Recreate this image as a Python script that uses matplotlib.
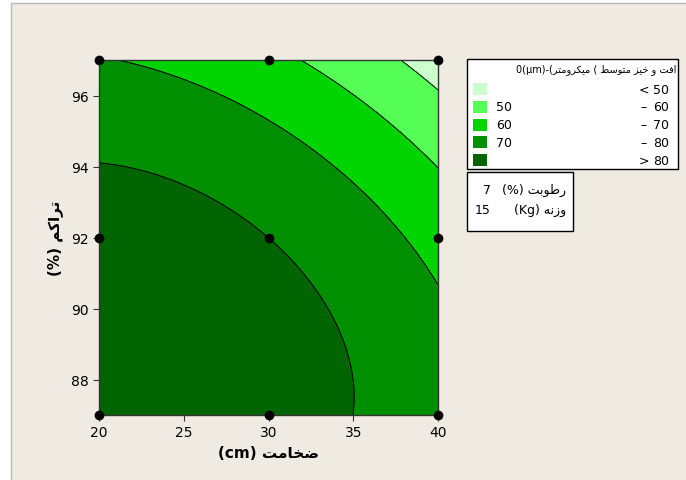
import numpy as np
import matplotlib.pyplot as plt
from matplotlib.patches import Rectangle
from matplotlib import font_manager, ft2font

# design points (thickness cm, compaction %) and response
thick = [20, 30, 40]
comp = [87, 92, 97]
resp = np.array([[83.8, 83.5, 74.2],    # comp 87
                 [84.2, 80.0, 66.5],    # comp 92
                 [70.3, 62.6, 45.5]])   # comp 97

levels = [0, 50, 60, 70, 80, 100]
colors = ['#ccffcc', '#55ff55', '#00d400', '#008f00', '#006400']
leg_left = ['', '50', '60', '70', '']
leg_sym = ['<', '–', '–', '–', '>']
leg_right = ['50', '60', '70', '80', '80']
hold_names = ['رطوبت', 'وزنه']
hold_units = ['(%)', '(Kg)']
hold_vals = ['7', '15']

# --- tiny arabic shaper (matplotlib has no bidi / joining) ---
dj = {'ب': 0xFE8F, 'ت': 0xFE95, 'خ': 0xFEA5, 'س': 0xFEB1, 'ض': 0xFEBD, 'ط': 0xFEC1,
      'ف': 0xFED1, 'ك': 0xFED9, 'م': 0xFEE1, 'ن': 0xFEE5, 'ه': 0xFEE9, 'ي': 0xFEF1}
rj = {'ا': 0xFE8D, 'ر': 0xFEAD, 'ز': 0xFEAF, 'و': 0xFEED}
fa_forms = {'ک': 0xFB8E, 'ی': 0xFBFC}

_f = ft2font.FT2Font(font_manager.findfont('DejaVu Sans'))
have_fa = all(_f.get_char_index(c + i) for c in fa_forms.values() for i in range(4))


def forms(ch):
    if ch in fa_forms and have_fa:
        b = fa_forms[ch]
        return [b, b + 1, b + 2, b + 3]
    if ch == 'ک':
        ch = 'ك'
    if ch == 'ی':
        return [0xFEEF, 0xFEF0, 0xFEF3, 0xFEF4]
    if ch in dj:
        b = dj[ch]
        return [b, b + 1, b + 2, b + 3]
    if ch in rj:
        b = rj[ch]
        return [b, b + 1]
    return None


def ar(s):
    out = []
    for i, ch in enumerate(s):
        f = forms(ch)
        if f is None:
            out.append(ch)
            continue
        prev = forms(s[i - 1]) if i > 0 else None
        nxt = forms(s[i + 1]) if i + 1 < len(s) else None
        jp = prev is not None and len(prev) == 4
        jn = len(f) == 4 and nxt is not None
        if jp and jn:
            out.append(chr(f[3]))
        elif jn:
            out.append(chr(f[2]))
        elif jp:
            out.append(chr(f[1]))
        else:
            out.append(chr(f[0]))
    return ''.join(out[::-1])


# quadratic response surface fitted to the design points
X, Y = np.meshgrid(thick, comp)
u = (X.ravel() - 30) / 10
v = (Y.ravel() - 92) / 5
A = np.column_stack([np.ones_like(u), u, v, u * u, v * v, u * v])
coef, *_ = np.linalg.lstsq(A, resp.ravel(), rcond=None)

gx, gy = np.meshgrid(np.linspace(20, 40, 200), np.linspace(87, 97, 200))
gu = (gx - 30) / 10
gv = (gy - 92) / 5
Z = (coef[0] + coef[1] * gu + coef[2] * gv + coef[3] * gu ** 2
     + coef[4] * gv ** 2 + coef[5] * gu * gv)

bg = '#efebe2'
fig = plt.figure(figsize=(6.86, 4.81), dpi=100, facecolor='white')
fig.patches.append(Rectangle((11 / 686, -0.01), 1, 1 - 4 / 481 + 0.01, transform=fig.transFigure,
                             facecolor=bg, edgecolor='#b8b8b8', lw=1, zorder=-10))

ax = fig.add_axes([99 / 686, 65 / 481, 339 / 686, 355 / 481])
ax.contourf(gx, gy, Z, levels=levels, colors=colors)
ax.contour(gx, gy, Z, levels=levels[1:-1], colors='black', linewidths=0.7)
ax.plot(X.ravel(), Y.ravel(), 'o', color='black', ms=6, clip_on=False, zorder=5)

ax.set_xlim(20, 40)
ax.set_ylim(87, 97)
ax.set_xticks([20, 25, 30, 35, 40])
ax.set_yticks([88, 90, 92, 94, 96])
ax.tick_params(direction='out', length=4, labelsize=10, color='#333333')
for s in ax.spines.values():
    s.set_color('#333333')
    s.set_linewidth(1)

ax.set_xlabel('(cm) ' + ar('ضخامت'), fontsize=11, fontweight='bold', labelpad=4)
ax.set_ylabel('(%) ' + ar('تراکم'), fontsize=11, fontweight='bold', labelpad=6)

# legend box
W, H = 686, 481


def fx(px):
    return px / W


def fy(py):
    return 1 - py / H


fig.patches.append(Rectangle((fx(467), fy(170)), fx(678) - fx(467), fy(60) - fy(170),
                             transform=fig.transFigure, facecolor='white',
                             edgecolor='black', lw=1))
fig.text(fx(676), fy(70), '0(µm)-(' + ar('میکرومتر') + ' ( ' + ar('افت و خیز متوسط'),
         fontsize=7, ha='right', va='center')
for i in range(len(colors)):
    yc = 90 + i * 17.8
    fig.patches.append(Rectangle((fx(473), fy(yc + 6)), fx(14), 12 / H,
                                 transform=fig.transFigure, facecolor=colors[i],
                                 edgecolor='none'))
    fig.text(fx(496), fy(yc), leg_left[i], fontsize=9, va='center')
    fig.text(fx(644), fy(yc), leg_sym[i], fontsize=9, va='center', ha='center')
    fig.text(fx(653), fy(yc), leg_right[i], fontsize=9, va='center')

fig.patches.append(Rectangle((fx(467), fy(232)), fx(573) - fx(467), fy(173) - fy(232),
                             transform=fig.transFigure, facecolor='white',
                             edgecolor='black', lw=1))
for i in range(2):
    yc = 190 + i * 20
    fig.text(fx(491), fy(yc), hold_vals[i], fontsize=9, va='center', ha='right')
    fig.text(fx(566), fy(yc), hold_units[i] + ' ' + ar(hold_names[i]),
             fontsize=9, va='center', ha='right')

fig.savefig('out.png', dpi=100, facecolor='white')
